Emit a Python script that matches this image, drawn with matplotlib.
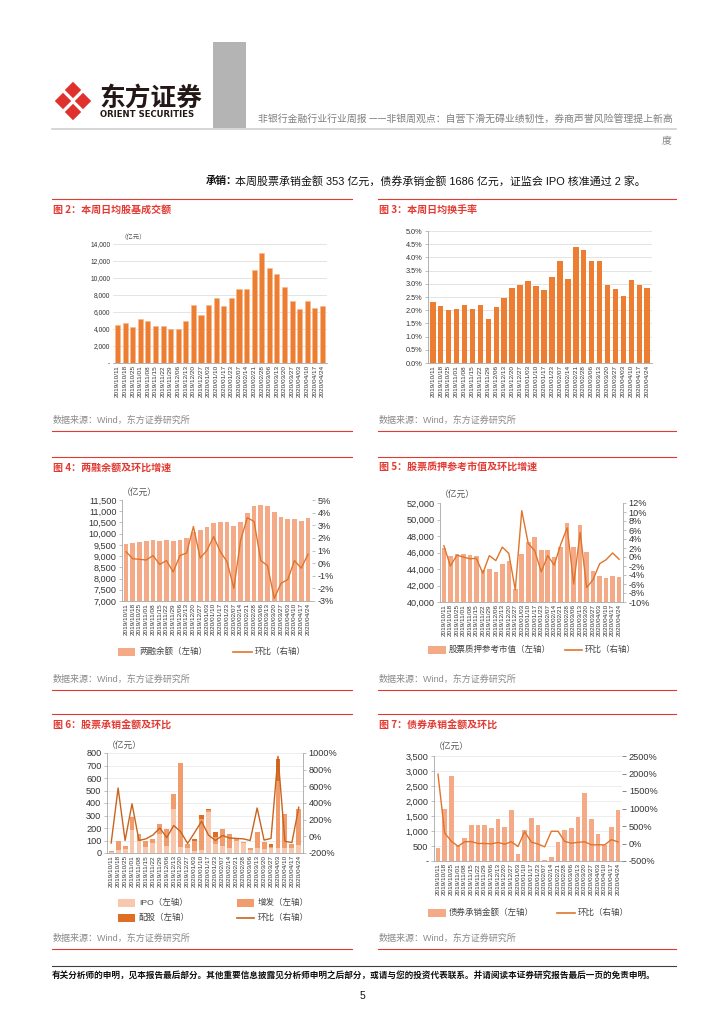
import matplotlib
matplotlib.use("Agg")
import matplotlib.pyplot as plt
from matplotlib.patches import Rectangle, Polygon
from matplotlib.ticker import FuncFormatter, FixedLocator
import numpy as np

plt.rcParams['font.family'] = ['Liberation Sans', 'Noto Sans CJK SC', 'DejaVu Sans']
plt.rcParams['axes.unicode_minus'] = False
CJK = ['Noto Sans CJK SC', 'DejaVu Sans']

# ---------------- data ----------------
dates = ['2019/10/11', '2019/10/18', '2019/10/25', '2019/11/01', '2019/11/08', '2019/11/15',
         '2019/11/22', '2019/11/29', '2019/12/06', '2019/12/13', '2019/12/20', '2019/12/27',
         '2020/01/03', '2020/01/10', '2020/01/17', '2020/01/23', '2020/02/07', '2020/02/14',
         '2020/02/21', '2020/02/28', '2020/03/06', '2020/03/13', '2020/03/20', '2020/03/27',
         '2020/04/03', '2020/04/10', '2020/04/17', '2020/04/24']

turnover = [4450, 4700, 4200, 5200, 4950, 4300, 4400, 4050, 3950, 4950, 6850, 5650, 6850, 7600,
            6700, 7650, 8750, 8650, 10950, 12950, 11200, 10450, 8900, 7350, 6350, 7300, 6500, 6650]

turnover_rate = [2.30, 2.17, 2.00, 2.03, 2.20, 2.05, 2.20, 1.65, 2.12, 2.45, 2.85, 2.97, 3.12, 2.93,
                 2.77, 3.25, 3.87, 3.20, 4.40, 4.28, 3.87, 3.87, 2.97, 2.80, 2.55, 3.15, 2.97, 2.83]

margin = [9560, 9600, 9640, 9660, 9730, 9690, 9730, 9670, 9730, 9790, 10080, 10150, 10280, 10480,
          10530, 10530, 10350, 10500, 10900, 11250, 11270, 11250, 10950, 10750, 10650, 10650, 10580, 10680]
margin_ring = [0.9, 0.35, 0.3, 0.25, 0.6, -0.1, 0.2, -0.7, 0.6, 0.8, 2.9, 0.4, 1.0, 2.1,
               0.9, 0.1, -2.0, 1.8, 3.6, 3.3, 0.2, -0.2, -2.8, -1.6, -1.3, 0.2, -0.4, 0.7]

pledge = [46600, 45600, 45800, 45800, 45650, 45550, 43900, 43950, 43650, 44650, 44950, 41600, 45800, 47300,
          47900, 46250, 46250, 45400, 46650, 49600, 46650, 49350, 46050, 43700, 43100, 42850, 43200, 43050]
pledge_ring = [2.5, -2.0, 0.4, 0.0, -0.4, -0.3, -3.6, 0.3, -0.8, 2.2, 0.8, -7.3, 10.3, 3.0,
               1.4, -3.3, 0.3, -1.8, 2.8, 6.5, -6.0, 5.5, -6.8, -5.0, -1.5, -0.6, 0.9, -0.5]

ipo = [5, 25, 30, 185, 100, 50, 80, 150, 55, 355, 50, 40, 20, 25,
       330, 70, 55, 40, 100, 80, 25, 40, 30, 40, 40, 40, 40, 65]
seo = [10, 75, 30, 105, 50, 50, 35, 80, 140, 115, 670, 35, 75, 245,
       15, 60, 135, 110, 20, 5, 15, 130, 60, 10, 540, 275, 35, 288]
rights = [0, 0, 0, 0, 0, 0, 0, 0, 0, 0, 0, 0, 15, 35,
          10, 40, 0, 0, 0, 0, 0, 0, 0, 20, 170, 0, 0, 0]
equity_ring = [-80, 580, -50, 390, -50, -30, 15, 100, -15, 130, 55, -85, 45, 180,
               15, -50, 10, -20, -25, -30, -50, 340, -45, -25, 960, -60, -75, 350]

bond = [430, 1730, 2830, 520, 780, 1200, 1200, 1210, 1100, 1410, 1120, 1700, 230, 1030,
        1440, 1210, 30, 140, 630, 1030, 1110, 1480, 2260, 1390, 900, 540, 1140, 1686]
bond_ring = [1980, 300, 65, -80, 50, 55, 0, 0, -10, 30, -20, 50, -85, 340,
             40, -15, -95, 350, 350, 60, 8, 33, 50, -40, -35, -40, 110, 45]

# ---------------- colours ----------------
RED = '#E23A33'
ORANGE = '#ED7D31'
SALMON = '#F4AA86'
LINE = '#E0742A'
IPO_C = '#F8C8AE'
SEO_C = '#F09C6C'
RIGHTS_C = '#DE6E24'
LINE6 = '#C8641F'
GRAY = '#8A8A8A'
SPINE = '#A6A6A6'
TXT = '#333333'

W, H = 724, 1024
fig = plt.figure(figsize=(W / 100, H / 100), dpi=100)

canvas = fig.add_axes([0, 0, 1, 1], zorder=0)
canvas.set_xlim(0, W)
canvas.set_ylim(H, 0)
canvas.axis('off')


def pax(x0, y0, x1, y1):
    return fig.add_axes([x0 / W, 1 - y1 / H, (x1 - x0) / W, (y1 - y0) / H], zorder=2)


# ---------------- header ----------------
logo_centers = [(73, 90), (63, 101), (83, 101), (73, 112)]
for cx, cy in logo_centers:
    r = 9.5
    canvas.add_patch(Polygon([(cx, cy - r), (cx + r, cy), (cx, cy + r), (cx - r, cy)],
                             closed=True, facecolor='#E0322C', edgecolor='white', lw=1.3,
                             joinstyle='round'))
canvas.text(99, 98, '东方证券', fontsize=18.5, fontweight='bold', color='#231815', va='center', ha='left',
            family=CJK)
canvas.text(100, 114.5, 'ORIENT SECURITIES', fontsize=6.1, fontweight='bold', color='#231815',
            va='center', ha='left', family=['DejaVu Sans'])
canvas.add_patch(Rectangle((213, 42), 33, 86, facecolor='#B4B4B4', edgecolor='none'))
canvas.plot([52, 676], [128.5, 128.5], color='#D0D0D0', lw=1.2)
canvas.text(258, 119, '非银行金融行业行业周报 ——非银周观点：自营下滑无碍业绩韧性，券商声誉风险管理提上新高',
            fontsize=7.1, color='#808080', va='center', ha='left', family=CJK)
canvas.text(672, 141, '度', fontsize=7.1, color='#808080', va='center', ha='right', family=CJK)

canvas.text(206, 181, '承销：', fontsize=7.6, fontweight='bold', color='#111111', va='center', ha='left',
            family=CJK)
canvas.text(235, 181, '本周股票承销金额 353 亿元，债券承销金额 1686 亿元，证监会 IPO 核准通过 2 家。',
            fontsize=7.9, color='#111111', va='center', ha='left')

# ---------------- panel frames ----------------
panels = [
    (52, 352, 199, 431, '图 2：本周日均股基成交额'),
    (378, 676, 199, 431, '图 3：本周日均换手率'),
    (52, 352, 457, 690, '图 4：两融余额及环比增速'),
    (378, 676, 457, 690, '图 5：股票质押参考市值及环比增速'),
    (52, 352, 714, 949, '图 6：股票承销金额及环比'),
    (378, 676, 714, 949, '图 7：债券承销金额及环比'),
]
for x0, x1, yt, yb, title in panels:
    canvas.plot([x0, x1], [yt, yt], color=RED, lw=0.8)
    canvas.plot([x0, x1], [yb, yb], color=RED, lw=0.8)
    canvas.text(x0 + 1, yt + 11, title, fontsize=7.2, fontweight='bold', color=RED,
                va='center', ha='left', family=CJK)
    canvas.text(x0 + 1, yb - 11, '数据来源：Wind，东方证券研究所', fontsize=6.5, color=GRAY,
                va='center', ha='left')

# ---------------- footer ----------------
canvas.plot([52, 676], [966, 966], color='#404040', lw=0.8)
canvas.text(52, 976, '有关分析师的申明，见本报告最后部分。其他重要信息披露见分析师申明之后部分，或请与您的投资代表联系。并请阅读本证券研究报告最后一页的免责申明。',
            fontsize=6.2, fontweight='bold', color='#111111', va='center', ha='left', family=CJK)
canvas.text(362, 996, '5', fontsize=7.5, color='#111111', va='center', ha='center')

x = np.arange(len(dates))


def style_left(ax, fs):
    for s in ['top', 'right']:
        ax.spines[s].set_visible(False)
    ax.spines['left'].set_color(SPINE)
    ax.spines['bottom'].set_color(SPINE)
    ax.spines['left'].set_linewidth(0.6)
    ax.spines['bottom'].set_linewidth(0.6)
    ax.tick_params(axis='y', labelsize=fs, length=2, width=0.5, color=SPINE, pad=2, labelcolor=TXT)
    ax.tick_params(axis='x', labelsize=4.6, length=0, pad=1.5, labelcolor=TXT)
    ax.set_xticks(x)
    ax.set_xticklabels(dates, rotation=90)
    ax.set_xlim(-0.6, len(dates) - 0.4)
    ax.set_facecolor('none')


def right_axis(ax, fs, spine=False, tick_color=SPINE, length=2):
    for s in ['top', 'left', 'bottom', 'right']:
        ax.spines[s].set_visible(False)
    if spine:
        ax.spines['right'].set_visible(True)
        ax.spines['right'].set_color(SPINE)
        ax.spines['right'].set_linewidth(0.6)
    ax.tick_params(axis='y', labelsize=fs, length=length, width=0.5, color=tick_color, pad=2,
                   labelcolor=TXT)
    ax.yaxis.set_major_formatter(FuncFormatter(lambda v, p: f'{int(round(v))}%'))


def comma(v, p):
    return '-' if v == 0 else f'{int(v):,}'


def legend_text(x0, y0, s):
    canvas.text(x0, y0, s, fontsize=6.1, color='#444444', va='center', ha='left')


FS = 6.6

# ---------------- chart 2 ----------------
ax2 = pax(113, 244, 327, 363)
ax2.bar(x, turnover, width=0.68, color=ORANGE, edgecolor='#F6B98F', linewidth=0.4, zorder=3)
ax2.set_ylim(0, 14000)
ax2.yaxis.set_major_locator(FixedLocator(np.arange(0, 14001, 2000)))
ax2.yaxis.set_major_formatter(FuncFormatter(comma))
ax2.grid(axis='y', color='#D9D9D9', lw=0.5, zorder=0)
style_left(ax2, 4.8)
ax2.tick_params(axis='y', length=0)
ax2.spines['left'].set_visible(False)
canvas.text(121, 237, '（亿元）', fontsize=4.6, color='#555555', va='center', ha='left')

# ---------------- chart 3 ----------------
ax3 = pax(428, 231, 652, 363)
ax3.bar(x, turnover_rate, width=0.7, color=ORANGE, zorder=3)
ax3.set_ylim(0, 5)
ax3.yaxis.set_major_locator(FixedLocator(np.arange(0, 5.01, 0.5)))
ax3.yaxis.set_major_formatter(FuncFormatter(lambda v, p: f'{v:.1f}%'))
ax3.grid(axis='y', color='#D9D9D9', lw=0.5, zorder=0)
style_left(ax3, 5.3)

# ---------------- chart 4 ----------------
ax4 = pax(122, 500, 312, 601)
ax4.bar(x, margin, width=0.7, color=SALMON, zorder=2)
ax4.set_ylim(7000, 11500)
ax4.yaxis.set_major_locator(FixedLocator(np.arange(7000, 11501, 500)))
ax4.yaxis.set_major_formatter(FuncFormatter(lambda v, p: f'{int(v):,}'))
style_left(ax4, FS)
ax4r = ax4.twinx()
ax4r.plot(x, margin_ring, color=LINE, lw=1.0, zorder=4)
ax4r.set_ylim(-3, 5)
ax4r.yaxis.set_major_locator(FixedLocator(np.arange(-3, 5.01, 1)))
right_axis(ax4r, FS)
canvas.text(122, 492, '（亿元）', fontsize=6.3, color='#555555', va='center', ha='left')
canvas.add_patch(Rectangle((118, 648), 17, 8, facecolor=SALMON, edgecolor='none'))
legend_text(139, 652, '两融余额（左轴）')
canvas.plot([233, 252], [652, 652], color=LINE, lw=1.2)
legend_text(255, 652, '环比（右轴）')

# ---------------- chart 5 ----------------
ax5 = pax(440, 503, 623, 602)
ax5.bar(x, pledge, width=0.7, color=SALMON, zorder=2)
ax5.set_ylim(40000, 52000)
ax5.yaxis.set_major_locator(FixedLocator(np.arange(40000, 52001, 2000)))
ax5.yaxis.set_major_formatter(FuncFormatter(lambda v, p: f'{int(v):,}'))
style_left(ax5, FS)
ax5r = ax5.twinx()
ax5r.plot(x, pledge_ring, color=LINE, lw=1.0, zorder=4)
ax5r.set_ylim(-10, 12)
ax5r.yaxis.set_major_locator(FixedLocator(np.arange(-10, 12.01, 2)))
right_axis(ax5r, FS, spine=True)
canvas.text(440, 494, '（亿元）', fontsize=6.3, color='#555555', va='center', ha='left')
canvas.add_patch(Rectangle((428, 646), 18, 8, facecolor=SALMON, edgecolor='none'))
legend_text(449, 650, '股票质押参考市值（左轴）')
canvas.plot([565, 582], [650, 650], color=LINE, lw=1.2)
legend_text(585, 650, '环比（右轴）')

# ---------------- chart 6 ----------------
ax6 = pax(107, 753, 303, 853)
ipo_a = np.array(ipo)
seo_a = np.array(seo)
rights_a = np.array(rights)
ax6.bar(x, ipo_a, width=0.7, color=IPO_C, zorder=2)
ax6.bar(x, seo_a, width=0.7, bottom=ipo_a, color=SEO_C, zorder=2)
ax6.bar(x, rights_a, width=0.7, bottom=ipo_a + seo_a, color=RIGHTS_C, zorder=2)
ax6.set_ylim(0, 800)
ax6.yaxis.set_major_locator(FixedLocator(np.arange(0, 801, 100)))
ax6.yaxis.set_major_formatter(FuncFormatter(lambda v, p: f'{int(v)}'))
ax6.grid(axis='y', color='#E6E6E6', lw=0.5, zorder=0)
style_left(ax6, FS)
ax6r = ax6.twinx()
ax6r.plot(x, equity_ring, color=LINE6, lw=1.0, zorder=4)
ax6r.set_ylim(-200, 1000)
ax6r.yaxis.set_major_locator(FixedLocator(np.arange(-200, 1001, 200)))
right_axis(ax6r, FS, spine=True)
canvas.text(107, 745, '（亿元）', fontsize=6.3, color='#555555', va='center', ha='left')
canvas.add_patch(Rectangle((118, 899), 17, 8, facecolor=IPO_C, edgecolor='none'))
legend_text(139, 903, 'IPO（左轴）')
canvas.add_patch(Rectangle((237, 899), 17, 8, facecolor=SEO_C, edgecolor='none'))
legend_text(258, 903, '增发（左轴）')
canvas.add_patch(Rectangle((118, 914), 17, 8, facecolor=RIGHTS_C, edgecolor='none'))
legend_text(139, 918, '配股（左轴）')
canvas.plot([237, 254], [918, 918], color=LINE6, lw=1.2)
legend_text(258, 918, '环比（右轴）')

# ---------------- chart 7 ----------------
ax7 = pax(434, 756, 622, 861)
ax7.bar(x, bond, width=0.7, color=SALMON, zorder=2)
ax7.set_ylim(0, 3500)
ax7.yaxis.set_major_locator(FixedLocator(np.arange(0, 3501, 500)))
ax7.yaxis.set_major_formatter(FuncFormatter(comma))
ax7.grid(axis='y', color='#E6E6E6', lw=0.5, zorder=0)
style_left(ax7, FS)
ax7r = ax7.twinx()
ax7r.plot(x, bond_ring, color=LINE, lw=1.0, zorder=4)
ax7r.set_ylim(-500, 2500)
ax7r.yaxis.set_major_locator(FixedLocator(np.arange(-500, 2501, 500)))
right_axis(ax7r, FS, tick_color='#555555', length=3)
canvas.text(434, 746, '（亿元）', fontsize=6.3, color='#555555', va='center', ha='left')
canvas.add_patch(Rectangle((428, 909), 18, 8, facecolor=SALMON, edgecolor='none'))
legend_text(449, 913, '债券承销金额（左轴）')
canvas.plot([557, 575], [913, 913], color=LINE, lw=1.2)
legend_text(578, 913, '环比（右轴）')

fig.savefig('out.png', dpi=100, facecolor='white')
